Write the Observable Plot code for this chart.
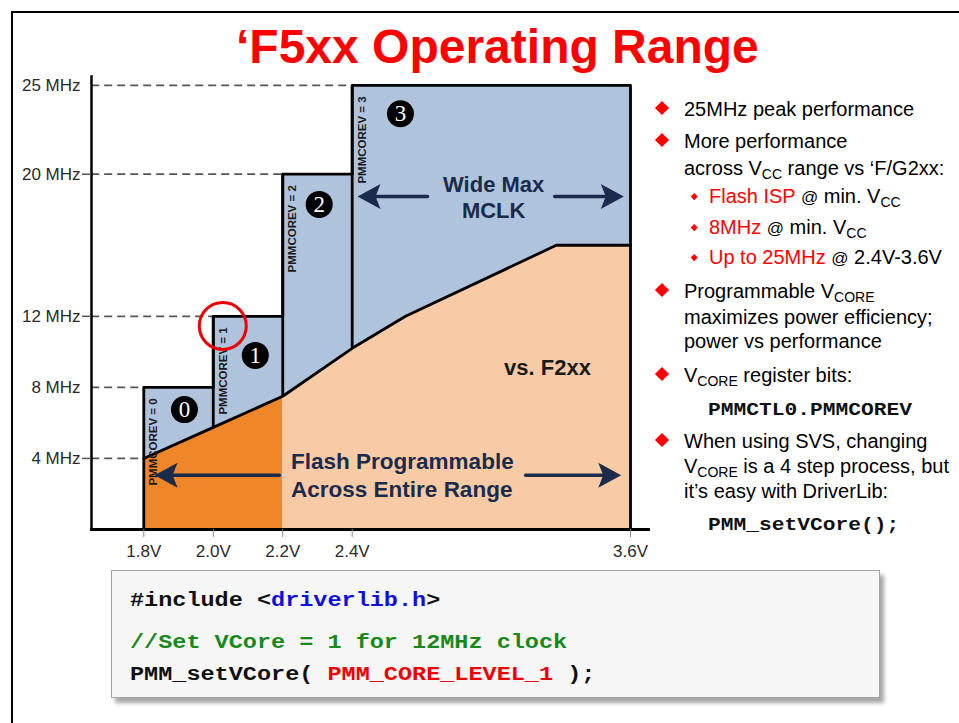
<!DOCTYPE html>
<html>
<head>
<meta charset="utf-8">
<script src="https://cdn.jsdelivr.net/npm/d3@7"></script>
<script src="https://cdn.jsdelivr.net/npm/@observablehq/plot@0.6"></script>
<style>
html, body { margin: 0; padding: 0; background: #fff; }
#slide { position: relative; width: 959px; height: 723px; overflow: hidden; font-family: "Liberation Sans", Arial, sans-serif; background: #fff; }
#frame { position: absolute; left: 11px; top: 11px; width: 1000px; height: 800px; border: 2.5px solid #000; }
#chart { position: absolute; left: 0; top: 0; }
#chart svg { background: transparent !important; }
.title { position: absolute; left: 236px; top: 22.5px; font-size: 48px; line-height: 48px; font-weight: bold; color: #ff0000; white-space: nowrap; }
.ln { position: absolute; white-space: nowrap; font-size: 20px; line-height: 20px; color: #000; }
.ln sub { font-size: 14px; line-height: 0; vertical-align: -4px; }
.at { font-size: 17px; }
.red { color: #ff0000; }
.dia { position: absolute; width: 10px; height: 10px; background: #ff0000; transform: rotate(45deg); }
.sdia { position: absolute; width: 4.5px; height: 4.5px; background: #ff0000; transform: rotate(45deg); }
.mono { position: absolute; white-space: nowrap; font-family: "Liberation Mono", "Courier New", monospace; font-weight: bold; color: #111; transform-origin: left center; }
.bmono { font-size: 18px; line-height: 18px; transform: scaleX(1.18); }
.cmono { font-size: 20px; line-height: 20px; transform: scaleX(1.175); }
#codebox { position: absolute; left: 111px; top: 570px; width: 767px; height: 126px; background: #f6f6f6; border: 1px solid #a3a3a3; box-shadow: 4px 5px 4px rgba(0,0,0,0.35); }
.blue { color: #1010dd; }
.green { color: #16891a; }
.cred { color: #ee0000; }
</style>
</head>
<body>
<div id="slide">
  <div id="frame"></div>
  <div id="chart"></div>
  <div class="title">‘F5xx Operating Range</div>

  <div id="bullets">
    <div class="dia" style="left:657px;top:103px"></div>
    <div class="ln" style="left:684px;top:99.1px">25MHz peak performance</div>

    <div class="dia" style="left:657px;top:135px"></div>
    <div class="ln" style="left:684px;top:131.1px">More performance</div>
    <div class="ln" style="left:684px;top:158.1px">across V<sub>CC</sub> range vs ‘F/G2xx:</div>

    <div class="sdia" style="left:691.8px;top:193.8px"></div>
    <div class="ln" style="left:709px;top:186.1px"><span class="red">Flash ISP</span> <span class="at">@</span> min. V<sub>CC</sub></div>
    <div class="sdia" style="left:691.8px;top:224.8px"></div>
    <div class="ln" style="left:709px;top:217.1px"><span class="red">8MHz</span> <span class="at">@</span> min. V<sub>CC</sub></div>
    <div class="sdia" style="left:691.8px;top:254.8px"></div>
    <div class="ln" style="left:709px;top:247.1px"><span class="red">Up to 25MHz</span> <span class="at">@</span> 2.4V-3.6V</div>

    <div class="dia" style="left:657px;top:285px"></div>
    <div class="ln" style="left:684px;top:281.1px">Programmable V<sub>CORE</sub></div>
    <div class="ln" style="left:684px;top:307.1px">maximizes power efficiency;</div>
    <div class="ln" style="left:684px;top:331.1px">power vs performance</div>

    <div class="dia" style="left:657px;top:369px"></div>
    <div class="ln" style="left:684px;top:365.1px">V<sub>CORE</sub> register bits:</div>
    <div class="mono bmono" style="left:708px;top:401.2px">PMMCTL0.PMMCOREV</div>

    <div class="dia" style="left:657px;top:435px"></div>
    <div class="ln" style="left:684px;top:431.1px">When using SVS, changing</div>
    <div class="ln" style="left:684px;top:456.1px">V<sub>CORE</sub> is a 4 step process, but</div>
    <div class="ln" style="left:684px;top:481.1px">it’s easy with DriverLib:</div>
    <div class="mono bmono" style="left:708px;top:516.2px">PMM_setVCore();</div>
  </div>

  <div id="codebox"></div>
  <div class="mono cmono" style="left:130px;top:591.4px">#include &lt;<span class="blue">driverlib.h</span>&gt;</div>
  <div class="mono cmono" style="left:130px;top:633px"><span class="green">//Set VCore = 1 for 12MHz clock</span></div>
  <div class="mono cmono" style="left:130px;top:664.7px">PMM_setVCore( <span class="cred">PMM_CORE_LEVEL_1</span> );</div>
</div>

<script>
// ---------------- data ----------------
const voltageEdges = [1.8, 2.0, 2.2, 2.4, 3.6];          // PMMCOREV level boundaries (V)
const levelTopMHz = [8, 12, 20, 25];                     // max MCLK per PMMCOREV level
const levelLabels = ["PMMCOREV = 0", "PMMCOREV = 1", "PMMCOREV = 2", "PMMCOREV = 3"];
const badgeText = ["0", "1", "2", "3"];
const badgeV = [1.917, 2.121, 2.305, 2.608];
const badgeMHz = [6.75, 9.8, 18.3, 23.4];
const f2xxV = [1.8, 2.0, 2.2, 2.4, 2.63, 3.28, 3.6];     // F2xx operating curve
const f2xxMHz = [4.0, 5.75, 7.5, 10.2, 12, 16, 16];
const flashSplitV = 2.2;
const axisStartV = 1.65;                                 // where the voltage axis begins
const yTickMHz = [25, 20, 12, 8, 4];
const yTickMarkMHz = [20, 12, 4];
const xTickV = [1.8, 2.0, 2.2, 2.4, 3.6];
const arrowGroupMHz = [18.75, 3.05];
const arrowTailV = [[2.725, 3.273], [2.19, 3.148]];
const arrowTipV = [[2.423, 3.571], [1.831, 3.56]];
const wideLabel = "Wide Max\nMCLK";
const wideLabelV = 3.01, wideLabelMHz = 18.75;
const flashLabel = "Flash Programmable\nAcross Entire Range";
const flashLabelV = 2.224, flashLabelMHz = 3.1;
const f2xxLabel = "vs. F2xx";
const f2xxLabelV = 3.242, f2xxLabelMHz = 9.07;
const highlightLevel = 1;

// ---------------- derived tables ----------------
const BLUE = "#b0c3dc", DARK = "#f0862a", PEACH = "#f8cba6", NAVY = "#1b2b4b", INK = "#000";
const levels = levelTopMHz.map((top, i) => ({x1: voltageEdges[i], x2: voltageEdges[i + 1], top, label: levelLabels[i]}));
const f2xx = f2xxV.map((v, i) => ({v, f: f2xxMHz[i]}));
const fAt = v => f2xx.find(d => d.v === v).f;
const darkPts = f2xx.filter(d => d.v <= flashSplitV);
const lightPts = f2xx.filter(d => d.v >= flashSplitV);
const dividers = voltageEdges.slice(1, -1).map((v, i) => ({v, f: fAt(v), top: levelTopMHz[i + 1]}));
const lastV = voltageEdges[voltageEdges.length - 1];
const outline = [{v: voltageEdges[0], f: 0}, ...levels.map(l => ({v: l.x1, f: l.top})),
  {v: lastV, f: levelTopMHz[levelTopMHz.length - 1]}, {v: lastV, f: 0}];
const edgeFor = mhz => voltageEdges[levelTopMHz.findIndex(t => t >= mhz)];
const badges = badgeText.map((t, i) => ({t, v: badgeV[i], f: badgeMHz[i]}));
const arrows = [];
arrowGroupMHz.forEach((f, k) => arrowTailV[k].forEach((tail, j) => {
  const tip = arrowTipV[k][j];
  arrows.push({f, tail, tip, dir: tip < tail ? -1 : 1});
}));
const ring = [{v: voltageEdges[highlightLevel], f: levelTopMHz[highlightLevel]}];

const headLeft = {draw(ctx) { ctx.moveTo(0, 0); ctx.lineTo(23, -12.5); ctx.lineTo(18, 0); ctx.lineTo(23, 12.5); ctx.closePath(); }};
const headRight = {draw(ctx) { ctx.moveTo(0, 0); ctx.lineTo(-23, -12.5); ctx.lineTo(-18, 0); ctx.lineTo(-23, 12.5); ctx.closePath(); }};

const plot = Plot.plot({
  width: 959,
  height: 570,
  marginLeft: 91,
  marginRight: 311,
  marginTop: 76,
  marginBottom: 41,
  style: {background: "transparent", fontFamily: "'Liberation Sans', Arial, sans-serif"},
  x: {type: "linear", domain: [1.8, 2.4, 3.6], range: [143.3, 351.7, 630], label: null},
  y: {domain: [0, 25.5], label: null},
  marks: [
    Plot.ruleY(yTickMHz, {y: d => d, x1: () => axisStartV, x2: d => edgeFor(d), stroke: "#555", strokeWidth: 1.8, strokeDasharray: "8,5"}),
    Plot.rect(levels, {x1: "x1", x2: "x2", y1: () => 0, y2: "top", fill: BLUE}),
    Plot.areaY(darkPts, {x: "v", y1: () => 0, y2: "f", fill: DARK}),
    Plot.areaY(lightPts, {x: "v", y1: () => 0, y2: "f", fill: PEACH}),
    Plot.line(f2xx, {x: "v", y: "f", stroke: INK, strokeWidth: 2.8}),
    Plot.ruleX(dividers, {x: "v", y1: "f", y2: "top", stroke: INK, strokeWidth: 2.8}),
    Plot.line(outline, {x: "v", y: "f", curve: "step-after", stroke: INK, strokeWidth: 2.8}),
    Plot.frame({anchor: "bottom", stroke: "#000", strokeWidth: 3}),
    Plot.frame({anchor: "left", stroke: "#000", strokeWidth: 2.5}),
    Plot.axisY({ticks: yTickMHz, tickFormat: d => `${d} MHz`, tickSize: 0, tickPadding: 11, fontSize: 17, fill: "#2a2a2a", label: null}),
    Plot.axisY({ticks: yTickMarkMHz, tickFormat: () => "", tickSize: 9, stroke: "#555", strokeWidth: 1.5, label: null}),
    Plot.axisX({ticks: xTickV, tickFormat: d => d.toFixed(1) + "V", tickSize: 8, tickPadding: 7, fontSize: 17, fill: "#2a2a2a", stroke: "#888", label: null}),
    Plot.text(levels, {x: "x1", y: "top", text: "label", rotate: -90, textAnchor: "end", dx: 10, dy: 11, fontSize: 11.5, fontWeight: "bold", fill: "#1a1a1a"}),
    Plot.dot(badges, {x: "v", y: "f", r: 13.5, fill: "#000", stroke: "none"}),
    Plot.text(badges, {x: "v", y: "f", text: "t", fill: "#fff", fontSize: 23, fontFamily: "'Liberation Serif', 'DejaVu Serif', serif"}),
    Plot.dot(ring, {x: "v", y: "f", r: 23.5, fill: "none", stroke: "#ee0000", strokeWidth: 3, dx: 9.5, dy: 9.7}),
    Plot.arrow(arrows, {x1: "tail", y1: "f", x2: "tip", y2: "f", stroke: NAVY, strokeWidth: 3.5, headLength: 0, insetEnd: 14}),
    Plot.dot(arrows.filter(d => d.dir < 0), {x: "tip", y: "f", symbol: headLeft, r: 5, fill: NAVY, stroke: "none"}),
    Plot.dot(arrows.filter(d => d.dir > 0), {x: "tip", y: "f", symbol: headRight, r: 5, fill: NAVY, stroke: "none"}),
    Plot.text([wideLabel], {x: () => wideLabelV, y: () => wideLabelMHz, text: d => d, fontSize: 22, fontWeight: "bold", fill: NAVY, lineHeight: 1.22}),
    Plot.text([flashLabel], {x: () => flashLabelV, y: () => flashLabelMHz, text: d => d, textAnchor: "start", fontSize: 22.5, fontWeight: "bold", fill: NAVY, lineHeight: 1.22}),
    Plot.text([f2xxLabel], {x: () => f2xxLabelV, y: () => f2xxLabelMHz, text: d => d, fontSize: 22, fontWeight: "bold", fill: "#1a1a1a"})
  ]
});
document.getElementById("chart").appendChild(plot);
</script>
</body>
</html>
